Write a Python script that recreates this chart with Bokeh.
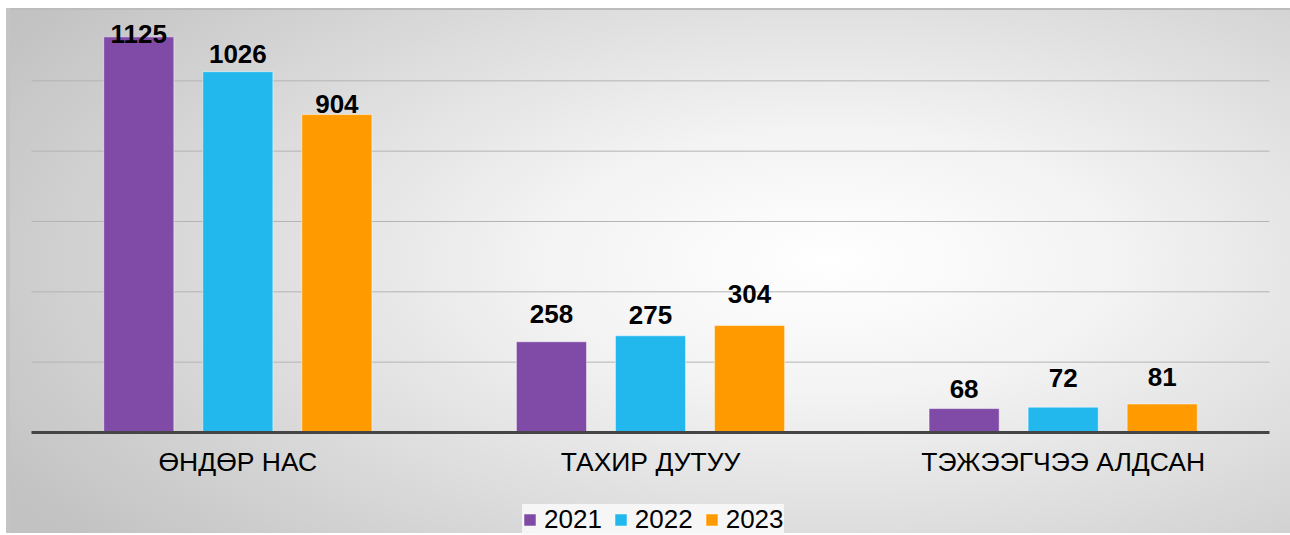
from bokeh.plotting import figure
from bokeh.models import FactorRange, ColumnDataSource, Legend, LegendItem, Range1d
from bokeh.transform import dodge
from bokeh.core.properties import value
from bokeh.embed import file_html
from bokeh.resources import INLINE

categories = ["ӨНДӨР НАС", "ТАХИР ДУТУУ", "ТЭЖЭЭГЧЭЭ АЛДСАН"]
years = ["2021", "2022", "2023"]
v2021 = [1125, 258, 68]
v2022 = [1026, 275, 72]
v2023 = [904, 304, 81]
series = [v2021, v2022, v2023]
grid_values = [200, 400, 600, 800, 1000]
colors = ["#7f4ba6", "#22b8ee", "#ff9a00"]
# gap (px) between label and bar top, per year then per category
label_gap = [[3, 28, 20], [18, 21, 29], [11, 32, 27]]

FONT = "Liberation Sans"

# frame fills the whole canvas; the area under zero holds category names and legend
p = figure(x_range=FactorRange(factors=categories, range_padding=0.0509, range_padding_units="absolute"),
           y_range=Range1d(-293, 1200),
           width=1280, height=525, output_backend="svg", toolbar_location=None,
           min_border_left=0, min_border_right=0, min_border_top=0, min_border_bottom=0)
p.styles = {"background": "radial-gradient(ellipse 75% 85% at 64% 48%, #ffffff 0%, #f3f3f3 30%, #c2c2c2 100%)",
            "border-top": "2px solid #bcbcbc", "margin": "8px 0 0 10px",
            "box-shadow": "-4px 0 0 0 #c4c4c4"}
p.border_fill_color = None
p.background_fill_color = None
p.outline_line_color = None
p.xaxis.visible = False
p.yaxis.visible = False
p.xgrid.visible = False
p.ygrid.visible = False

# horizontal grid lines spanning the plot area
gsrc = ColumnDataSource(dict(c0=[categories[0]] * len(grid_values), c1=[categories[-1]] * len(grid_values),
                             y=grid_values))
p.segment(x0=dodge("c0", -0.5, range=p.x_range), x1=dodge("c1", 0.5, range=p.x_range),
          y0="y", y1="y", source=gsrc, line_color="#b4b4b4", line_width=1)

offsets = [-0.24, 0.0, 0.24]
renderers = []
for i, yr in enumerate(years):
    src = ColumnDataSource(dict(cat=categories, val=series[i],
                                lab=[str(v) for v in series[i]],
                                off=[-g for g in label_gap[i]]))
    r = p.vbar(x=dodge("cat", offsets[i], range=p.x_range), top="val", width=0.17,
               source=src, fill_color=colors[i], line_color="white", line_alpha=0.5, line_width=1)
    renderers.append(r)
    p.text(x=dodge("cat", offsets[i], range=p.x_range), y="val", text="lab", source=src,
           y_offset="off", text_align="center", text_baseline="alphabetic",
           text_font=value(FONT), text_font_style="bold", text_font_size="26px", text_color="black")

# category axis: baseline and names
asrc = ColumnDataSource(dict(c0=[categories[0]], c1=[categories[-1]], y=[0]))
p.segment(x0=dodge("c0", -0.5, range=p.x_range), x1=dodge("c1", 0.5, range=p.x_range),
          y0="y", y1="y", source=asrc, line_color="#454545", line_width=3)
csrc = ColumnDataSource(dict(cat=categories, y=[0] * len(categories)))
p.text(x="cat", y="y", text="cat", source=csrc, y_offset=15, text_align="center", text_baseline="top",
       text_font=value(FONT), text_font_size="26.5px", text_color="black")

legend = Legend(items=[LegendItem(label=yr, renderers=[r]) for yr, r in zip(years, renderers)],
                orientation="horizontal", location=(512, 0),
                glyph_width=15, glyph_height=15, label_standoff=7, spacing=11,
                padding=5, margin=0,
                label_text_font=FONT, label_text_font_size="26px", label_text_color="black",
                background_fill_color="#f8f8f8", background_fill_alpha=0.9,
                border_line_color=None)
p.add_layout(legend, "center")

open("out.html", "w").write(file_html(p, INLINE))
